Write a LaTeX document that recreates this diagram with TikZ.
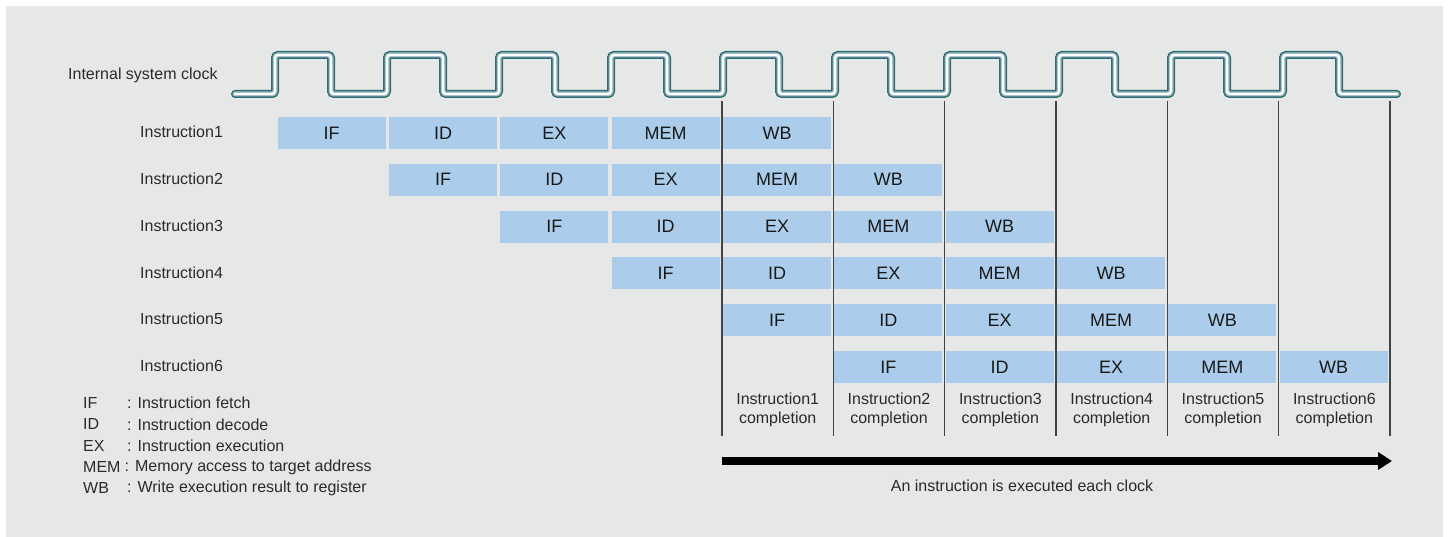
\documentclass[tikz,border=0pt]{standalone}
\usepackage{fontspec}
\setmainfont{Liberation Sans}
\usetikzlibrary{arrows.meta}
\definecolor{bg}{HTML}{E6E8E8}
\definecolor{stage}{HTML}{ABCDEB}
\definecolor{clk}{HTML}{2B6E76}
\definecolor{clkmid}{HTML}{A3BDC0}
\definecolor{txt}{HTML}{2A2A2A}
\definecolor{sep}{HTML}{444444}
\begin{document}
\begin{tikzpicture}[x=1pt,y=-1pt,
  stagebox/.style={fill=stage, minimum width=108pt, minimum height=32pt, inner sep=0pt,
    font=\fontsize{18}{20}\selectfont, text=black!90},
  lbl/.style={inner sep=0pt, font=\fontsize{16}{19.5}\selectfont, text=txt},
  sepline/.style={draw=sep, line width=1.1pt},
  bigarrow/.style={line width=8pt, -{Triangle[length=14pt,width=17pt]}}]
\useasboundingbox (0,0) rectangle (1450,537);
\fill[bg] (6,6) rectangle (1443,537);

% clock
\foreach \w/\cc in {8/clk,5/clkmid,2.2/white}{
  \draw[line width=\w pt, \cc, rounded corners=3pt, line cap=round]
    (235,94) \foreach \k in {0,...,9}{
      -- ({275+112*\k},94) -- ({275+112*\k},55) -- ({331+112*\k},55) -- ({331+112*\k},94)
    } -- (1397,94);
}
\node[lbl, anchor=west] (clklbl) at (68,75) {Internal system clock};

% rows
\foreach \r in {1,...,6}{
  \pgfmathsetmacro\ry{132+46.8*(\r-1)}
  \node[lbl, anchor=west] (row\r) at (140,\ry) {Instruction\r};
  \foreach \st [count=\s from 0] in {IF,ID,EX,MEM,WB}{
    \pgfmathsetmacro\bx{276.7+111.33*(\r-1+\s)+55}
    \node[stagebox] (st\r-\s) at (\bx,\ry+1) {\st};
  }
}

% separator lines
\foreach \k in {4,...,10}{
  \pgfmathsetmacro\lx{276.7+111.33*\k}
  \coordinate (t\k) at (\lx,101);
  \coordinate (b\k) at (\lx,436);
  \draw[sepline] (t\k) -- (b\k);
}

% completion labels
\foreach \i in {1,...,6}{
  \pgfmathsetmacro\cx{276.7+111.33*(\i+3)+55.67}
  \node[lbl, align=center] (cmp\i) at (\cx,410) {Instruction\i\\completion};
}

% arrow
\coordinate (as) at (722,461);
\coordinate (ae) at (1392,461);
\draw[bigarrow] (as) -- (ae);
\node[lbl] (arrlbl) at (1022,486) {An instruction is executed each clock};

% legend
\foreach \ab/\desc/\cx [count=\j from 0] in {IF/Instruction fetch/127, ID/Instruction decode/127, EX/Instruction execution/127, MEM/Memory access to target address/124.5, WB/Write execution result to register/127}{
  \node[lbl, anchor=west] (lga\j) at (83,403+21.3*\j) {\ab};
  \node[lbl, anchor=west] (lgd\j) at (\cx,403+21.3*\j) {: \desc};
}
\end{tikzpicture}
\end{document}
